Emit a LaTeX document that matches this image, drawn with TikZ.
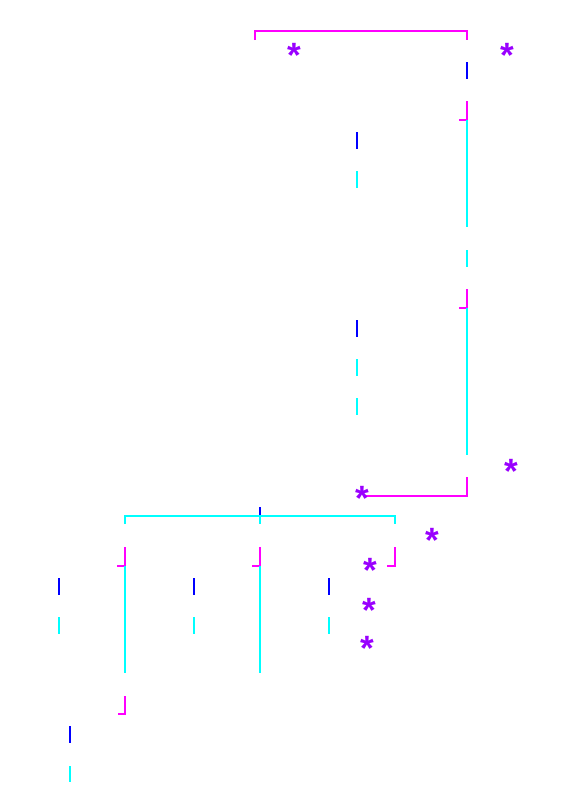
\documentclass[tikz,border=0pt]{standalone}
\usepackage{fontspec}
\newfontfamily\starfont{Liberation Sans}
\usepackage{tikz}
\usetikzlibrary{positioning}
\definecolor{starviolet}{RGB}{153,0,255}
\definecolor{pinkline}{RGB}{255,0,255}
\definecolor{aqualine}{RGB}{0,255,255}
\definecolor{navyline}{RGB}{0,0,255}
\tikzstyle{magline} = [draw=pinkline, line width=0.06cm]
\tikzstyle{cyanline} = [draw=aqualine, line width=0.06cm]
\tikzstyle{blueline} = [draw=navyline, line width=0.06cm]
\tikzstyle{starnode} = [inner sep=0pt, text=starviolet, font=\starfont\bfseries\fontsize{30}{30}\selectfont, yshift=-3.5pt]

\begin{document}
\begin{tikzpicture}[x=0.03cm, y=-0.03cm]
  \useasboundingbox (0,0) rectangle (570,805);

  % top bracket
  \draw [magline] (255,40) -- (255,31) -- (467,31) -- (467,40);
  \node (star1) [starnode] at (294,51) {*};
  \node (star2) [starnode] at (507,51) {*};
  \draw [blueline] (467,62) -- (467,79);

  % first branch
  \draw [magline] (467,101) -- (467,120) -- (459,120);
  \draw [cyanline] (467,120) -- (467,227);
  \draw [cyanline] (467,250) -- (467,267);
  \draw [blueline] (357,132) -- (357,149);
  \draw [cyanline] (357,171) -- (357,188);

  % second branch
  \draw [magline] (467,289) -- (467,308) -- (459,308);
  \draw [cyanline] (467,308) -- (467,455);
  \draw [blueline] (357,320) -- (357,337);
  \draw [cyanline] (357,359) -- (357,376);
  \draw [cyanline] (357,398) -- (357,415);
  \node (star3) [starnode] at (511,467) {*};
  \draw [magline] (467,477) -- (467,496) -- (366,496);
  \node (star4) [starnode] at (362,494) {*};

  % split into three
  \draw [blueline] (260,507) -- (260,517);
  \draw [cyanline] (125,524) -- (125,516) -- (395,516) -- (395,524);
  \draw [cyanline] (260,516) -- (260,524);
  \node (star5) [starnode] at (432,536) {*};
  \foreach \xx in {125,260,395}
    \draw [magline] (\xx,547) -- (\xx,566) -- (\xx-8,566);
  \node (star6) [starnode] at (370,566) {*};
  \draw [cyanline] (125,566) -- (125,673);
  \draw [cyanline] (260,566) -- (260,673);
  \foreach \xx in {59,194,329} {
    \draw [blueline] (\xx,578) -- (\xx,595);
    \draw [cyanline] (\xx,617) -- (\xx,634);
  }
  \node (star7) [starnode] at (369,606) {*};
  \node (star8) [starnode] at (367,644) {*};

  % last step
  \draw [magline] (125,696) -- (125,714) -- (118,714);
  \draw [blueline] (70,726) -- (70,743);
  \draw [cyanline] (70,766) -- (70,782);
\end{tikzpicture}
\end{document}
